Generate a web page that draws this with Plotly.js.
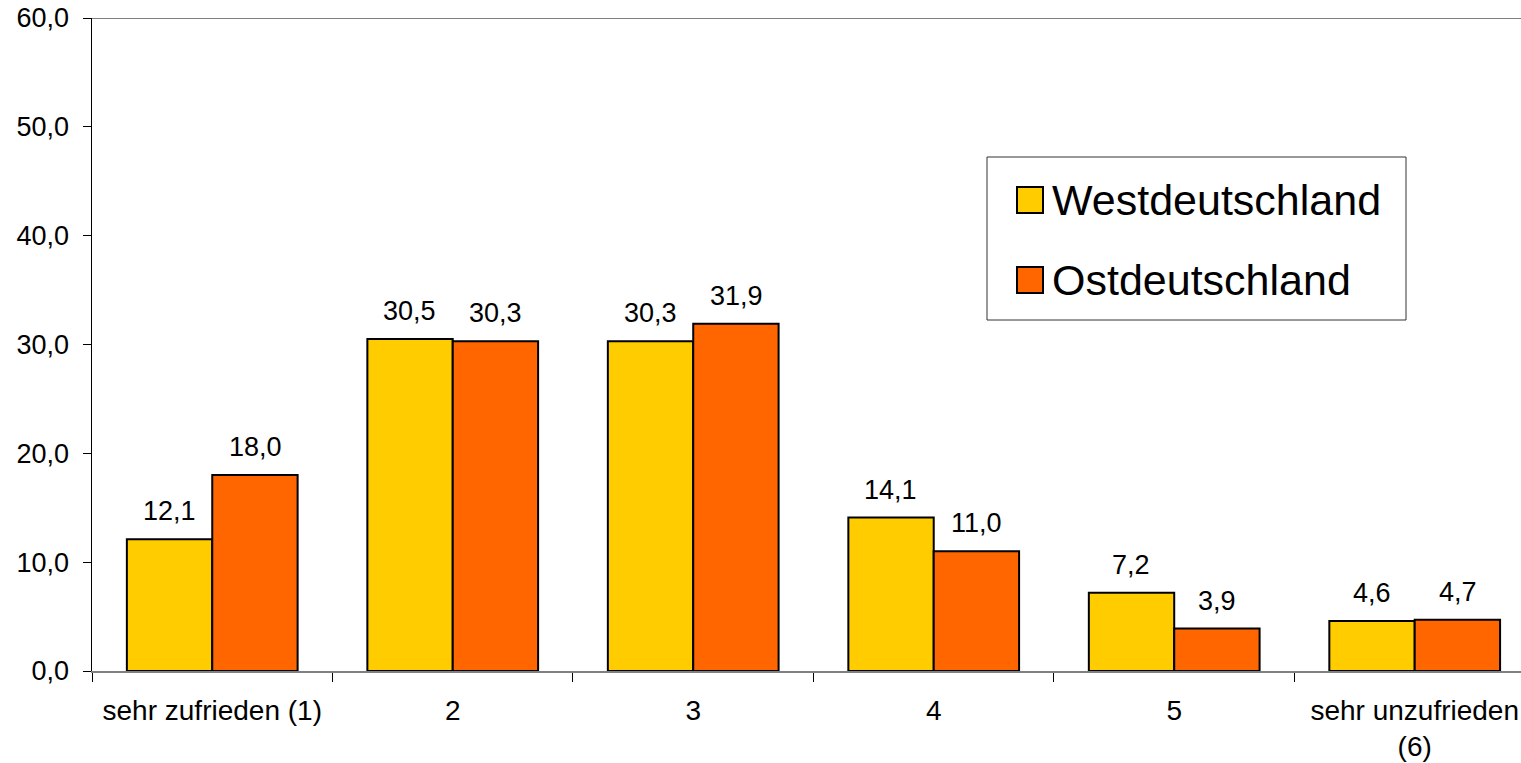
<!DOCTYPE html>
<html><head><meta charset="utf-8">
<script src="https://cdn.plot.ly/plotly-3.0.1.min.js"></script>
<style>html,body{margin:0;padding:0;background:#fff}#chart{width:1521px;height:763px}</style>
</head><body><div id="chart"></div>
<script>
const categories = ["sehr zufrieden (1)", "2", "3", "4", "5", "sehr unzufrieden<br>(6)"];
const seriesNames = ["Westdeutschland", "Ostdeutschland"];
const west = [12.1, 30.5, 30.3, 14.1, 7.2, 4.6];
const ost = [18.0, 30.3, 31.9, 11.0, 3.9, 4.7];
const yTicks = [0, 10, 20, 30, 40, 50, 60];

const colors = ["#FFCC00", "#FF6600"];
const fontFam = "Liberation Sans, Arial, sans-serif";
const W = 1521, H = 763, L = 92, R = 0, T = 18, B = 92;
const pw = W - L - R, ph = H - T - B;
const px = x => (x - L) / pw;
const py = y => (H - B - y) / ph;
const fmt = v => v.toFixed(1).replace('.', ',');

const traces = [west, ost].map((vals, i) => ({
  type: 'bar', x: categories, y: vals, name: seriesNames[i],
  marker: {color: colors[i], line: {color: '#000', width: 2}},
  showlegend: false, hoverinfo: 'none',
  offsetgroup: String(i)
}));

const annotations = [];
[west, ost].forEach((vals, i) => {
  vals.forEach((v, j) => {
    annotations.push({
      x: j, y: v, xref: 'x', yref: 'y', text: fmt(v), showarrow: false,
      yanchor: 'bottom', yshift: 11, xshift: (i === 0 ? -43 : 43),
      font: {family: fontFam, size: 27, color: '#000'}
    });
  });
});

// custom legend
const legendBox = {x0: 987, x1: 1406, y0: 157, y1: 320};
const swatch = [{x0: 1017, x1: 1043, y0: 187, y1: 213}, {x0: 1017, x1: 1043, y0: 267, y1: 293}];
const shapes = [
  {type: 'line', xref: 'paper', yref: 'y', x0: 0, x1: 1, y0: 60, y1: 60, line: {color: '#808080', width: 2}},
  {type: 'rect', xref: 'paper', yref: 'paper', x0: px(legendBox.x0), x1: px(legendBox.x1), y0: py(legendBox.y1), y1: py(legendBox.y0), line: {color: '#333', width: 1}, fillcolor: 'rgba(0,0,0,0)'}
];
seriesNames.forEach((n, i) => {
  const s = swatch[i];
  shapes.push({type: 'rect', xref: 'paper', yref: 'paper', x0: px(s.x0), x1: px(s.x1), y0: py(s.y1), y1: py(s.y0), line: {color: '#000', width: 2}, fillcolor: colors[i]});
  annotations.push({xref: 'paper', yref: 'paper', x: px(1050), y: py((s.y0 + s.y1) / 2), xanchor: 'left', yanchor: 'middle', text: n, showarrow: false, font: {family: fontFam, size: 43, color: '#000'}});
});

const layout = {
  width: W, height: H,
  margin: {l: L, r: R, t: T, b: B, pad: 0},
  paper_bgcolor: '#fff', plot_bgcolor: '#fff',
  barmode: 'group', bargap: 0.29, bargroupgap: 0,
  showlegend: false,
  font: {family: fontFam, size: 28, color: '#000'},
  xaxis: {
    type: 'category', range: [-0.5, 5.442], showgrid: false, zeroline: false,
    showline: true, linecolor: '#808080', linewidth: 2,
    ticks: 'outside', ticklen: 9, tickcolor: '#000', tickwidth: 1, tickson: 'boundaries',
    ticklabelstandoff: 13,
    tickfont: {family: fontFam, size: 28, color: '#000'}
  },
  yaxis: {
    range: [0, 60], tickvals: yTicks, ticktext: yTicks.map(fmt),
    showgrid: false, zeroline: false,
    showline: true, linecolor: '#000', linewidth: 1.5,
    ticks: 'outside', ticklen: 8, tickcolor: '#000', tickwidth: 1,
    ticklabelstandoff: 8,
    tickfont: {family: fontFam, size: 27, color: '#000'}
  },
  shapes: shapes,
  annotations: annotations
};

Plotly.newPlot('chart', traces, layout, {staticPlot: true, displayModeBar: false});
</script>
</body></html>
